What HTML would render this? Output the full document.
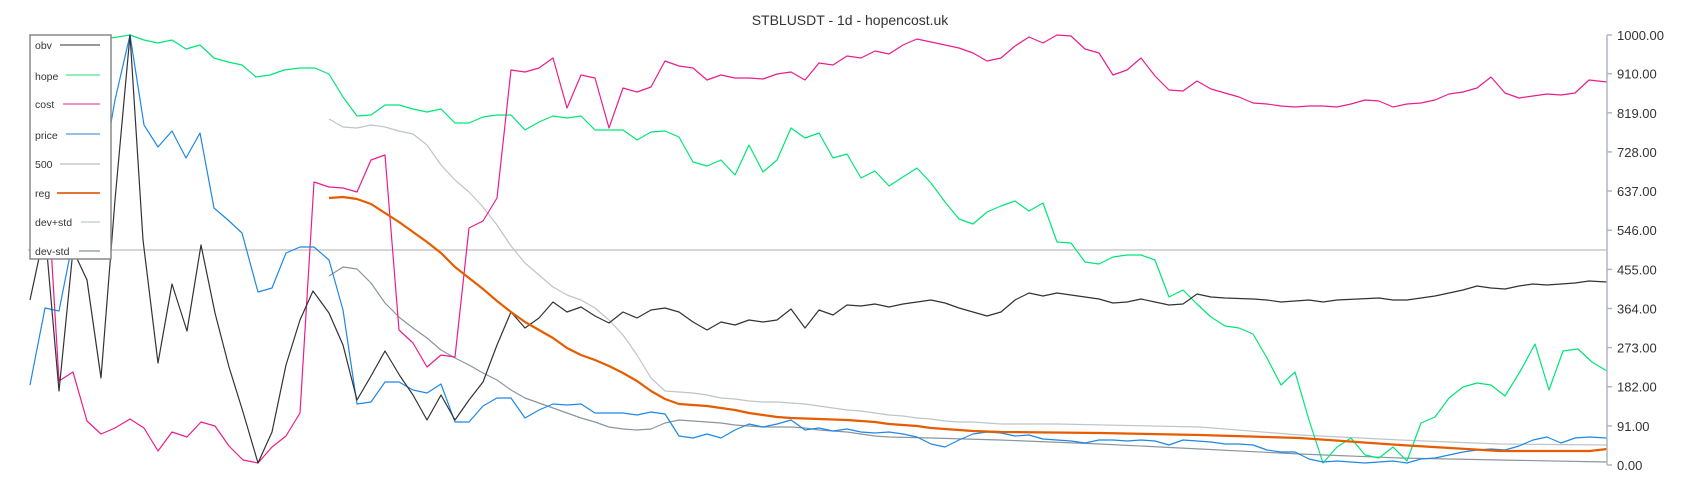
<!DOCTYPE html>
<html><head><meta charset="utf-8"><style>
html,body{margin:0;padding:0;background:#fff;}
svg{display:block;font-family:"Liberation Sans",sans-serif;}
</style></head><body>
<svg width="1700" height="500" viewBox="0 0 1700 500">
<rect width="1700" height="500" fill="#fff"/>
<text x="850" y="25" text-anchor="middle" font-size="14" fill="#333">STBLUSDT - 1d - hopencost.uk</text>
<line x1="28" y1="250" x2="1607" y2="250" stroke="#c8c8c8" stroke-width="1.5"/>
<g fill="none" stroke-width="1.2" stroke-linejoin="round">
<polyline stroke="#bfc4c8" points="329,119 343,127 357,128 371,125 385,127 399,131 413,134 427,145 441,165 455,180 469,192 483,207 497,225 511,246 525,263 539,275 553,287 567,295 581,300 595,308 609,320 623,335 637,355 651,378 665,391 679,392 693,393 707,395 721,398 735,399 749,401 763,402 777,402 791,403 805,404 819,406 833,408 847,410 861,411 875,413 889,415 903,416 917,418 931,419 945,421 959,422 973,422 1001,424 1057,424 1200,427 1300,435 1400,440 1500,444 1607,445"/>
<polyline stroke="#8a959e" points="329,276 343,267 357,269 371,283 385,303 400,318 413,328 427,338 441,350 455,358 469,365 483,373 497,380 511,390 525,398 539,403 553,408 567,413 581,418 595,422 609,427 623,429 637,430 651,429 665,423 679,420 693,421 707,422 721,423 735,425 749,426 763,427 791,427 805,428 819,430 833,431 847,432 861,434 875,436 889,437 931,438 1000,440 1100,444 1200,449 1300,454 1400,458 1500,460 1607,462"/>
<polyline stroke="#00e676" points="111,38 130,35 144,40 158,43 172,40 186,49 200,45 214,58 228,62 242,65 256,77 270,75 284,70 300,68 315,68 329,74 343,97 357,116 371,115 385,105 399,105 413,109 427,112 441,109 455,123 469,123 483,117 497,115 511,115 525,130 539,122 553,116 567,118 581,116 595,130 609,130 623,130 637,140 651,132 665,131 679,137 693,162 707,166 721,160 735,175 749,145 763,172 777,160 791,128 805,138 819,133 833,158 847,154 861,178 875,171 889,186 903,177 917,168 931,183 945,202 959,219 973,224 987,212 1001,206 1015,201 1029,211 1043,203 1057,242 1071,243 1085,262 1099,264 1113,257 1127,255 1141,255 1155,260 1169,297 1183,290 1197,304 1211,317 1225,326 1239,328 1253,334 1267,358 1281,385 1295,372 1309,420 1323,463 1337,447 1351,438 1365,455 1379,458 1393,447 1407,461 1421,423 1435,417 1449,398 1463,387 1477,383 1491,385 1505,396 1521,370 1535,344 1549,390 1563,351 1578,349 1592,362 1607,371"/>
<polyline stroke="#e91e8c" points="50,230 59,381 73,372 87,421 101,434 115,428 130,419 144,428 158,451 172,432 187,437 201,422 215,426 229,446 243,460 258,463 272,447 286,436 300,413 314,182 329,187 343,188 357,192 371,160 385,155 399,330 413,343 427,367 441,355 455,357 469,228 483,221 497,198 511,70 525,72 539,68 553,58 567,108 581,75 595,78 609,128 623,88 637,92 651,87 665,61 679,66 693,68 707,80 721,75 735,78 749,78 763,79 777,74 791,72 805,80 819,63 833,65 847,56 861,58 875,51 889,54 903,45 917,39 931,42 945,45 959,48 973,53 987,61 1001,58 1015,46 1029,37 1043,43 1057,35 1071,36 1085,49 1099,53 1113,75 1127,70 1141,58 1155,76 1169,90 1183,91 1197,81 1211,89 1225,93 1239,97 1253,103 1267,104 1281,106 1295,107 1309,106 1323,106 1337,107 1351,104 1365,100 1379,101 1393,107 1407,104 1421,103 1435,100 1449,94 1463,92 1477,88 1491,77 1505,93 1519,98 1533,96 1547,94 1561,95 1575,93 1589,80 1607,82"/>
<polyline stroke="#1e88e5" points="30,385 45,308 59,311 73,240 101,180 115,100 130,35 144,125 158,147 172,131 186,158 200,133 214,208 228,220 242,233 258,292 272,288 286,253 300,247 314,247 329,260 343,310 357,404 371,402 385,382 399,382 413,390 427,393 441,384 455,422 469,422 483,406 497,398 511,398 525,418 539,410 553,404 567,405 581,404 595,413 609,413 623,413 637,415 651,412 665,414 679,436 693,438 707,434 721,438 735,430 749,424 763,427 777,424 791,420 805,430 819,428 833,431 847,429 861,432 875,433 889,432 903,434 917,437 931,444 945,447 959,440 973,434 987,432 1001,433 1015,436 1029,435 1043,439 1057,440 1071,441 1085,443 1099,440 1113,440 1127,441 1141,440 1155,441 1169,445 1183,440 1197,441 1211,442 1225,444 1239,444 1253,445 1267,450 1281,452 1295,452 1309,459 1323,462 1337,461 1351,462 1365,463 1379,462 1393,461 1407,463 1421,459 1435,458 1449,455 1463,452 1477,450 1491,449 1505,450 1519,446 1533,440 1547,437 1561,443 1575,438 1589,437 1607,438"/>
<polyline stroke="#333" points="30,300 45,230 59,391 73,250 87,280 101,378 115,200 130,35 143,240 158,363 172,284 187,331 201,245 215,313 229,367 243,412 258,463 272,432 286,365 300,320 313,291 329,313 343,345 357,400 371,376 385,351 400,376 413,395 427,420 441,395 455,420 469,400 483,382 497,345 511,312 525,328 539,318 553,302 567,312 581,307 595,316 609,323 623,312 637,318 651,310 665,308 679,312 693,322 707,330 721,322 735,325 749,320 763,322 777,320 791,309 805,328 819,310 833,315 847,305 861,306 875,304 889,307 903,304 917,302 931,300 945,303 959,308 973,312 987,316 1001,312 1015,300 1029,293 1043,296 1057,293 1071,295 1085,297 1099,299 1113,303 1127,302 1141,299 1155,302 1169,305 1183,304 1197,294 1211,297 1225,298 1253,299 1267,300 1281,302 1295,301 1309,300 1323,302 1337,300 1379,298 1393,300 1407,300 1421,298 1435,296 1449,293 1463,290 1477,286 1491,288 1505,289 1519,286 1533,284 1547,285 1561,284 1575,283 1589,281 1607,282"/>
<polyline stroke="#e65c00" stroke-width="2.2" points="329,198 343,197 357,199 371,204 385,213 399,222 413,232 427,242 441,253 455,267 469,278 483,289 497,301 511,312 525,322 539,330 553,338 567,348 581,355 595,360 609,366 623,373 637,381 651,391 665,399 679,404 693,405 707,406 721,408 735,410 749,413 763,415 777,417 791,418 819,419 847,420 875,422 889,424 903,425 917,426 931,428 945,429 959,430 973,431 1001,432 1100,433 1200,435 1300,438 1400,445 1500,451 1590,451 1607,449"/>
</g>
<g stroke="#b0b8bf" stroke-width="1.5">
<line x1="1607" y1="35" x2="1607" y2="465"/>
<line x1="1607" y1="35" x2="1612" y2="35"/><line x1="1607" y1="73.7" x2="1612" y2="73.7"/><line x1="1607" y1="112.8" x2="1612" y2="112.8"/><line x1="1607" y1="151.9" x2="1612" y2="151.9"/><line x1="1607" y1="191" x2="1612" y2="191"/><line x1="1607" y1="230.2" x2="1612" y2="230.2"/><line x1="1607" y1="269.4" x2="1612" y2="269.4"/><line x1="1607" y1="308.5" x2="1612" y2="308.5"/><line x1="1607" y1="347.6" x2="1612" y2="347.6"/><line x1="1607" y1="386.7" x2="1612" y2="386.7"/><line x1="1607" y1="425.9" x2="1612" y2="425.9"/><line x1="1607" y1="465" x2="1612" y2="465"/>
</g>
<g font-size="13" fill="#333">
<text x="1617" y="40">1000.00</text><text x="1617" y="78.7">910.00</text><text x="1617" y="117.8">819.00</text><text x="1617" y="156.9">728.00</text><text x="1617" y="196">637.00</text><text x="1617" y="235.2">546.00</text><text x="1617" y="274.4">455.00</text><text x="1617" y="313.5">364.00</text><text x="1617" y="352.6">273.00</text><text x="1617" y="391.7">182.00</text><text x="1617" y="430.9">91.00</text><text x="1617" y="470">0.00</text>
</g>
<rect x="30" y="35" width="81" height="224" fill="#fff" stroke="#888" stroke-width="1.5"/>
<g font-size="10.5" fill="#333">
<text x="35" y="49">obv</text><line x1="60" y1="45" x2="100" y2="45" stroke="#777" stroke-width="1.5"/>
<text x="35" y="80">hope</text><line x1="66" y1="75" x2="100" y2="75" stroke="#6ee8a0" stroke-width="1.5"/>
<text x="35" y="108">cost</text><line x1="63" y1="104" x2="100" y2="104" stroke="#ec6fb0" stroke-width="1.5"/>
<text x="35" y="139">price</text><line x1="66" y1="134" x2="100" y2="134" stroke="#6aaeea" stroke-width="1.5"/>
<text x="35" y="168">500</text><line x1="60" y1="164" x2="100" y2="164" stroke="#c8c8c8" stroke-width="1.5"/>
<text x="35" y="197">reg</text><line x1="57" y1="193" x2="100" y2="193" stroke="#e06010" stroke-width="1.8"/>
<text x="35" y="226">dev+std</text><line x1="81" y1="222" x2="100" y2="222" stroke="#ccd2d6" stroke-width="1.5"/>
<text x="35" y="255">dev-std</text><line x1="79" y1="251" x2="100" y2="251" stroke="#9aa6ae" stroke-width="1.5"/>
</g>
</svg>
</body></html>
